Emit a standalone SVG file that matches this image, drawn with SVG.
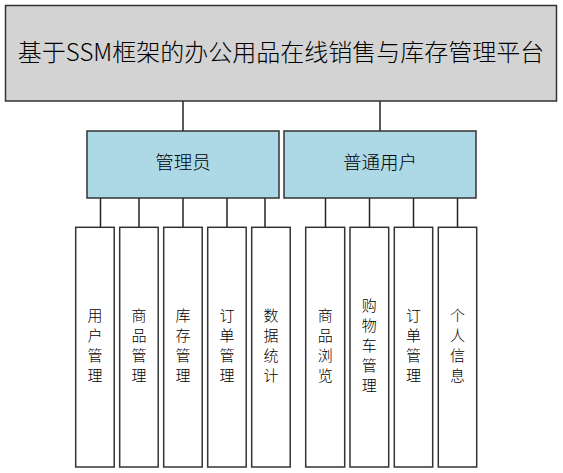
<svg xmlns="http://www.w3.org/2000/svg" width="563" height="473" viewBox="0 0 563 473">
<style>
.box{stroke:#333;stroke-width:1.5}
.root{fill:#d3d3d3}
.mid{fill:#add8e6}
.leaf{fill:#fff}
.t{font-family:"Microsoft YaHei","Noto Sans CJK SC","Noto Sans",sans-serif;font-weight:300;fill:#000;text-anchor:middle}
.c line{stroke:#222;stroke-width:1.5}
</style>
<rect width="563" height="473" fill="#fff"/>
<g class="c" id="connectors">
<line x1="183" y1="101" x2="183" y2="131"/>
<line x1="380" y1="101" x2="380" y2="131"/>
<line x1="100.5" y1="198" x2="100.5" y2="227"/>
<line x1="139" y1="198" x2="139" y2="227"/>
<line x1="183" y1="198" x2="183" y2="227"/>
<line x1="227" y1="198" x2="227" y2="227"/>
<line x1="265" y1="198" x2="265" y2="227"/>
<line x1="325.5" y1="198" x2="325.5" y2="227"/>
<line x1="369.5" y1="198" x2="369.5" y2="227"/>
<line x1="413.5" y1="198" x2="413.5" y2="227"/>
<line x1="457.5" y1="198" x2="457.5" y2="227"/>
</g>
<g id="root">
<rect class="box root" x="5.5" y="5.5" width="551" height="95.5"/>
<text class="t" x="281" y="61" font-size="24">基于SSM框架的办公用品在线销售与库存管理平台</text>
</g>
<g id="admin">
<rect class="box mid" x="87" y="131" width="192" height="67"/>
<text class="t" x="183" y="169" font-size="18.5">管理员</text>
</g>
<g id="user">
<rect class="box mid" x="284" y="131" width="192" height="67"/>
<text class="t" x="380" y="169" font-size="18.5">普通用户</text>
</g>
<g id="n1"><rect class="box leaf" x="75.7" y="227.3" width="38.5" height="239.7"/>
<text class="t" font-size="15"><tspan x="95" y="320.5">用</tspan><tspan x="95" y="340.5">户</tspan><tspan x="95" y="360.5">管</tspan><tspan x="95" y="380.5">理</tspan></text></g>
<g id="n2"><rect class="box leaf" x="119.7" y="227.3" width="38.5" height="239.7"/>
<text class="t" font-size="15"><tspan x="139" y="320.5">商</tspan><tspan x="139" y="340.5">品</tspan><tspan x="139" y="360.5">管</tspan><tspan x="139" y="380.5">理</tspan></text></g>
<g id="n3"><rect class="box leaf" x="163.7" y="227.3" width="38.5" height="239.7"/>
<text class="t" font-size="15"><tspan x="183" y="320.5">库</tspan><tspan x="183" y="340.5">存</tspan><tspan x="183" y="360.5">管</tspan><tspan x="183" y="380.5">理</tspan></text></g>
<g id="n4"><rect class="box leaf" x="207.7" y="227.3" width="38.5" height="239.7"/>
<text class="t" font-size="15"><tspan x="227" y="320.5">订</tspan><tspan x="227" y="340.5">单</tspan><tspan x="227" y="360.5">管</tspan><tspan x="227" y="380.5">理</tspan></text></g>
<g id="n5"><rect class="box leaf" x="251.7" y="227.3" width="38.5" height="239.7"/>
<text class="t" font-size="15"><tspan x="271" y="320.5">数</tspan><tspan x="271" y="340.5">据</tspan><tspan x="271" y="360.5">统</tspan><tspan x="271" y="380.5">计</tspan></text></g>
<g id="n6"><rect class="box leaf" x="305.7" y="227.3" width="39" height="239.7"/>
<text class="t" font-size="15"><tspan x="325.2" y="320.5">商</tspan><tspan x="325.2" y="340.5">品</tspan><tspan x="325.2" y="360.5">浏</tspan><tspan x="325.2" y="380.5">览</tspan></text></g>
<g id="n7"><rect class="box leaf" x="350" y="227.3" width="38.7" height="239.7"/>
<text class="t" font-size="15"><tspan x="369.3" y="311">购</tspan><tspan x="369.3" y="331">物</tspan><tspan x="369.3" y="351">车</tspan><tspan x="369.3" y="371">管</tspan><tspan x="369.3" y="391">理</tspan></text></g>
<g id="n8"><rect class="box leaf" x="394.3" y="227.3" width="38.4" height="239.7"/>
<text class="t" font-size="15"><tspan x="413.5" y="320.5">订</tspan><tspan x="413.5" y="340.5">单</tspan><tspan x="413.5" y="360.5">管</tspan><tspan x="413.5" y="380.5">理</tspan></text></g>
<g id="n9"><rect class="box leaf" x="438.3" y="227.3" width="38.4" height="239.7"/>
<text class="t" font-size="15"><tspan x="457.5" y="320.5">个</tspan><tspan x="457.5" y="340.5">人</tspan><tspan x="457.5" y="360.5">信</tspan><tspan x="457.5" y="380.5">息</tspan></text></g>
</svg>
